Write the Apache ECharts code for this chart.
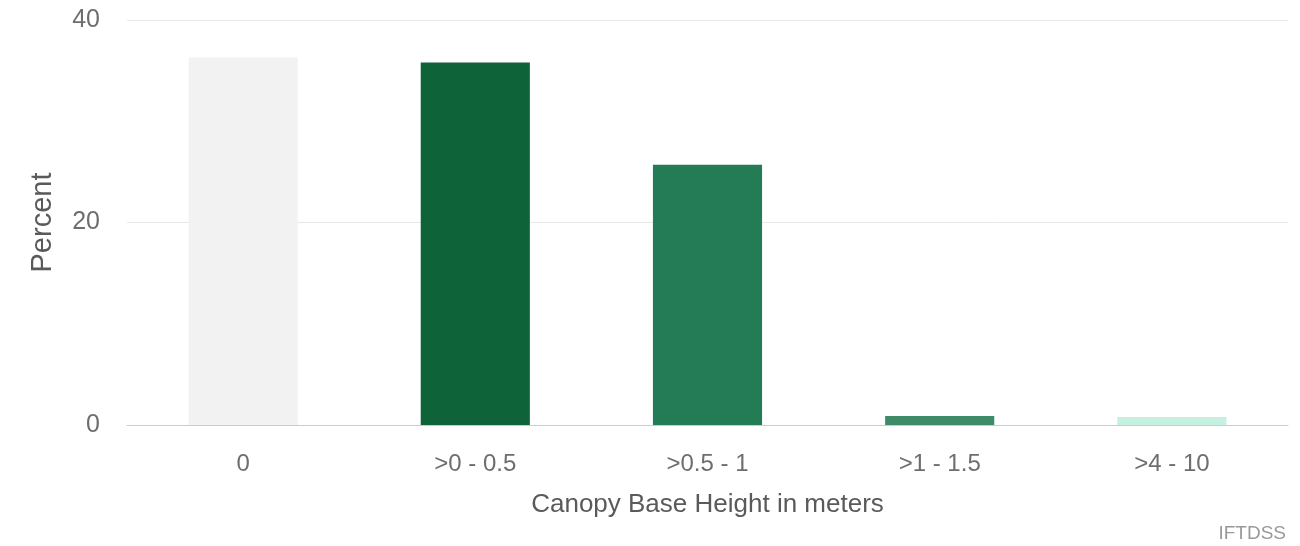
<!DOCTYPE html>
<html>
<head>
<meta charset="utf-8">
<script src="https://cdn.jsdelivr.net/npm/echarts@6/dist/echarts.min.js"></script>
<style>
  html, body { margin: 0; padding: 0; background: #ffffff; }
  #chart { width: 1300px; height: 546px; }
</style>
</head>
<body>
<div id="chart"></div>
<script>
// Canopy base height classes and the share of area in each
const categories = ['0', '>0 - 0.5', '>0.5 - 1', '>1 - 1.5', '>4 - 10'];
const percentValues = [36.3, 35.8, 25.7, 0.9, 0.8];
const yTicks = [0, 20, 40];

// Fill colour for each class
const barColors = ['#f2f2f2', '#0e6339', '#247c57', '#3f8a67', '#c6f0df'];

const chart = echarts.init(document.getElementById('chart'));
const fontFamily = '"Liberation Sans", Arial, Helvetica, sans-serif';

chart.setOption({
  animation: false,
  backgroundColor: '#ffffff',
  grid: { left: 127, right: 12, top: 20, bottom: 121 },
  xAxis: {
    type: 'category',
    data: categories,
    name: 'Canopy Base Height in meters',
    nameLocation: 'middle',
    nameGap: 67,
    nameTextStyle: { color: '#5a5a5a', fontSize: 26, fontFamily },
    axisLine: { show: true, lineStyle: { color: '#cccccc', width: 1 } },
    axisTick: { show: false },
    axisLabel: { color: '#6e6e6e', fontSize: 24, fontFamily, margin: 27 }
  },
  yAxis: {
    type: 'value',
    min: yTicks[0],
    max: yTicks[yTicks.length - 1],
    interval: 20,
    name: 'Percent',
    nameLocation: 'middle',
    nameGap: 70,
    nameTextStyle: { color: '#5a5a5a', fontSize: 29, fontFamily },
    axisLine: { show: false },
    axisTick: { show: false },
    axisLabel: { color: '#6e6e6e', fontSize: 25, fontFamily, margin: 27 },
    splitLine: { lineStyle: { color: '#e8e8e8', width: 1 } }
  },
  series: [{
    type: 'bar',
    barWidth: '47%',
    data: percentValues.map((v, i) => ({ value: v, itemStyle: { color: barColors[i] } }))
  }],
  graphic: [{
    type: 'text',
    right: 14,
    bottom: 3,
    style: { text: 'IFTDSS', fill: '#999999', fontSize: 19, fontFamily }
  }]
});
</script>
</body>
</html>
